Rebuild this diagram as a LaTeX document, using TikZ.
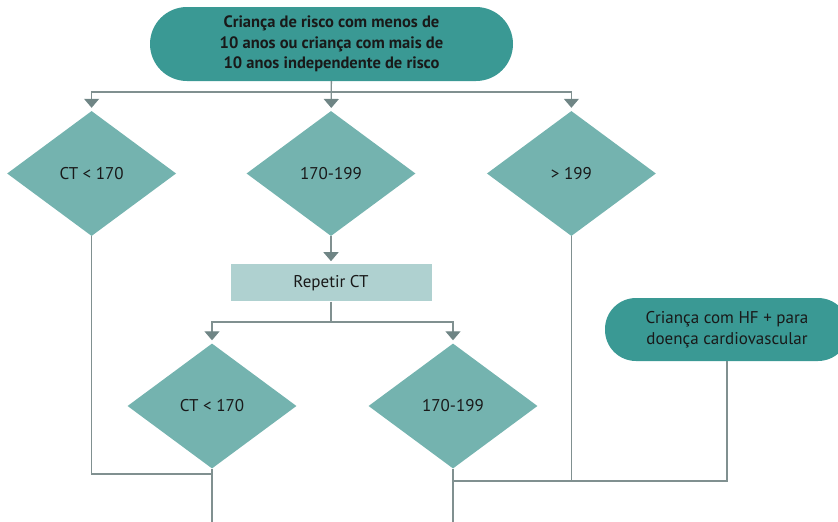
\documentclass[tikz,border=0pt]{standalone}
\usepackage{fontspec}
\setmainfont{PT Sans}
\definecolor{TealDark}  {RGB}{58,153,148}
\definecolor{TealMid}   {RGB}{116,179,175}
\definecolor{TealLight} {RGB}{175,209,208}
\definecolor{LineGrey}  {RGB}{128,144,144}
\definecolor{TipGrey}   {RGB}{111,133,133}
\usetikzlibrary{arrows.meta,positioning,shapes.geometric}

\begin{document}
\begin{tikzpicture}[x=1pt,y=-1pt,node distance=28pt,
  font=\fontsize{17}{20.5}\selectfont,
  term/.style={fill=TealDark,rounded corners=31pt,align=center,
               text=black!90,inner sep=0pt},
  dia/.style={diamond,fill=TealMid,inner sep=0pt,
              minimum width=169pt,minimum height=125pt,text=black!90},
  conn/.style={draw=LineGrey,line width=1.3pt},
  arr/.style={conn,-{Triangle[width=15pt,length=9pt,color=TipGrey]},
              shorten >=3pt}]
  \useasboundingbox (0,0) rectangle (838,522);
  \node[term,rounded corners=37pt,minimum width=363pt,minimum height=74pt,
        font=\fontsize{16.5}{20.5}\selectfont\bfseries]
       (top) at (331.5,44){Criança de risco com menos de\\10 anos ou criança com mais de\\10 anos independente de risco};
  \node[dia] (d2) at (331,173.5){170-199};
  \node[dia,left=70pt of d2] (d1){CT < 170};
  \node[dia,right=71pt of d2] (d3){> 199};
  \node[fill=TealLight,minimum width=201pt,minimum height=37pt,text=black!90,
        below=28pt of d2] (rep){Repetir CT};
  \node[dia] (e1) at (212,406){CT < 170};
  \node[dia] (e2) at (453,406){170-199};
  \node[term,minimum width=244pt,minimum height=63pt] (hf) at (727,329.5)
       {Criança com HF + para\\doença cardiovascular};
  \coordinate (s1) at (331,92);
  \coordinate (s2) at (331,322);
  \coordinate (m1) at (212,474);
  \coordinate (m2) at (453,481);
  \coordinate (out1) at (212,522);
  \coordinate (out2) at (453,522);
  % first split
  \draw[arr](top)--(d2);
  \draw[arr](s1)-|(d1);
  \draw[arr](s1)-|(d3);
  % repeat test
  \draw[arr](d2)--(rep);
  \draw[conn](rep)--(s2);
  \draw[arr](s2)-|(e1);
  \draw[arr](s2)-|(e2);
  % merges
  \draw[conn](d1.south)|-(m1);
  \draw[conn](e1.south)--(out1);
  \draw[conn](d3.south)|-(m2);
  \draw[conn](hf.south)|-(m2);
  \draw[conn](e2.south)--(out2);
\end{tikzpicture}
\end{document}
